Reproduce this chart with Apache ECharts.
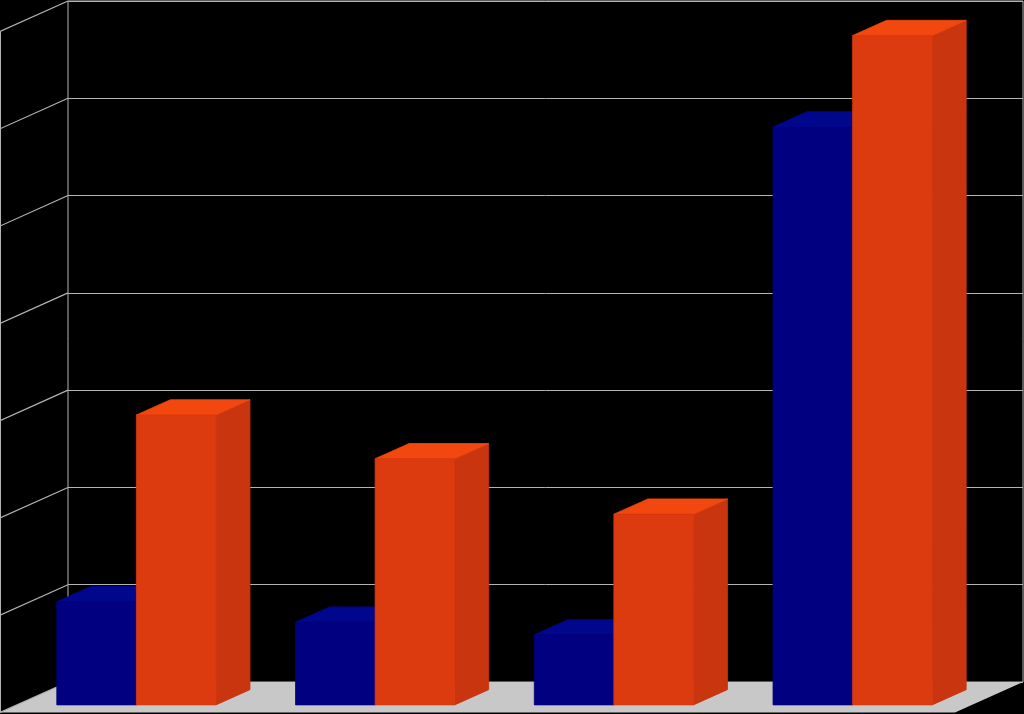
<!DOCTYPE html>
<html><head><meta charset="utf-8">
<script src="https://cdn.jsdelivr.net/npm/echarts@6/dist/echarts.min.js"></script>
<style>html,body{margin:0;padding:0;background:#000}#c{width:1024px;height:714px}</style>
</head><body><div id="c"></div>
<script>
// ---- data ----
const categories = ['Category 1', 'Category 2', 'Category 3', 'Category 4'];
const seriesBlue = [10.6, 8.5, 7.2, 59.4];
const seriesOrange = [29.8, 25.3, 19.6, 68.8];
const yTicks = [0, 10, 20, 30, 40, 50, 60, 70];

// ---- style / projection constants ----
const DX = -68, DY = 30.5;           // full depth of the floor (oblique projection)
const FRONT = 0.75, BACK = 0.25;     // bars occupy middle half of depth
const LINE = '#b4b4b4';
const BLUE = { front: '#000080', top: '#00078c', side: '#00006a' };
const ORANGE = { front: '#dc3a0f', top: '#f2470f', side: '#c8350f' };

function face(points, color) {
  return { type: 'polygon', shape: { points: points }, style: { fill: color, stroke: color, lineWidth: 0.8 } };
}

function cuboid(params, api, side, col) {
  const cat = api.value(0), val = api.value(1);
  const t = api.coord([cat, val]);
  const b0 = api.coord([cat, 0]);
  const w = api.size([1, 0])[0] / 3;
  const x0 = side < 0 ? t[0] - w : t[0];
  const x1 = x0 + w;
  const fx = DX * FRONT, fy = DY * FRONT, bx = DX * BACK, by = DY * BACK;
  const yt = t[1], yb = b0[1];
  return {
    type: 'group',
    children: [
      face([[x1 + fx, yt + fy], [x1 + bx, yt + by], [x1 + bx, yb + by], [x1 + fx, yb + fy]], col.side),
      face([[x0 + fx, yt + fy], [x0 + bx, yt + by], [x1 + bx, yt + by], [x1 + fx, yt + fy]], col.top),
      face([[x0 + fx, yt + fy], [x1 + fx, yt + fy], [x1 + fx, yb + fy], [x0 + fx, yb + fy]], col.front)
    ]
  };
}

const chart = echarts.init(document.getElementById('c'), null, { renderer: 'canvas' });
chart.setOption({
  animation: false,
  backgroundColor: '#000',
  grid: { left: 68, top: 1, right: 1, bottom: 32, show: true, borderColor: LINE, borderWidth: 1, backgroundColor: '#000', z: 0 },
  xAxis: { type: 'category', data: categories, z: 0, axisLabel: { show: false }, axisLine: { show: false }, axisTick: { show: false } },
  yAxis: { type: 'value', min: 0, max: 70, interval: 10, z: 0, axisLabel: { show: false }, axisLine: { show: false }, axisTick: { show: false },
           splitLine: { lineStyle: { color: LINE, width: 1 } } },
  series: [
    {
      type: 'custom', z: 1, clip: false, silent: true,
      data: yTicks.map(v => [0, v]),
      renderItem: function (params, api) {
        const cs = params.coordSys;
        const p = api.coord([0, api.value(1)]);
        const y = p[1];
        const children = [];
        if (params.dataIndex === 0) {
          const yb = cs.y + cs.height;
          children.push({ type: 'polygon', shape: { points: [[cs.x, yb], [cs.x + cs.width, yb], [cs.x + cs.width + DX, yb + DY], [cs.x + DX, yb + DY]] }, style: { fill: '#c8c8c8' } });
          children.push({ type: 'line', shape: { x1: cs.x + DX + 0.5, y1: cs.y + DY, x2: cs.x + DX + 0.5, y2: yb + DY }, style: { stroke: LINE, lineWidth: 1 } });
        }
        children.push({ type: 'line', shape: { x1: cs.x, y1: y, x2: cs.x + DX, y2: y + DY }, style: { stroke: LINE, lineWidth: 1.2 } });
        return { type: 'group', children: children };
      }
    },
    {
      type: 'custom', name: 'Series 1', z: 2, clip: false,
      data: seriesBlue.map((v, i) => [i, v]),
      renderItem: (params, api) => cuboid(params, api, -1, BLUE)
    },
    {
      type: 'custom', name: 'Series 2', z: 3, clip: false,
      data: seriesOrange.map((v, i) => [i, v]),
      renderItem: (params, api) => cuboid(params, api, 1, ORANGE)
    }
  ]
});
</script>
</body></html>
